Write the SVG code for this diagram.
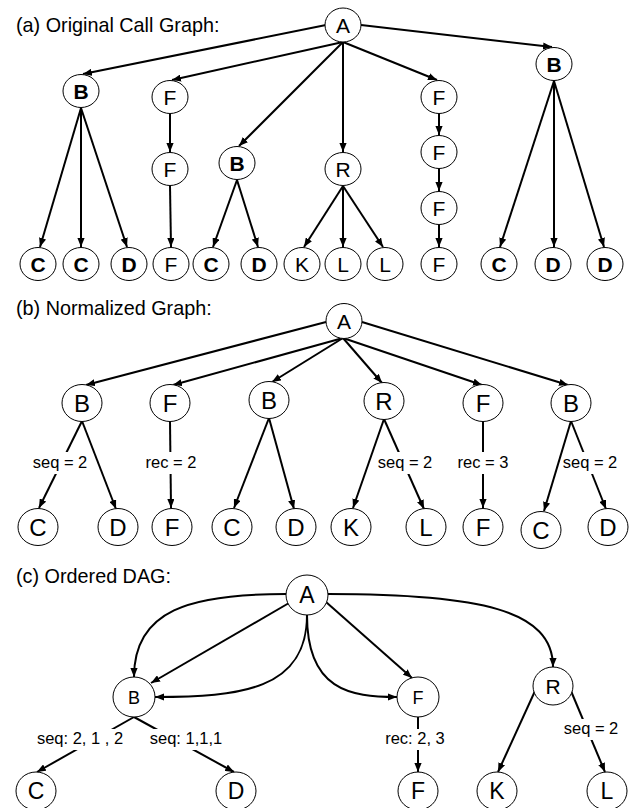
<svg xmlns="http://www.w3.org/2000/svg" width="633" height="808" viewBox="0 0 633 808">
<defs>
<marker id="ah" viewBox="0 0 10 8" refX="10" refY="4" markerWidth="9" markerHeight="7.2" markerUnits="userSpaceOnUse" orient="auto">
<path d="M0,0 L10,4 L0,8 z" fill="#000"/>
</marker>
</defs>
<style>
text{font-family:"Liberation Sans",Arial,sans-serif;fill:#000}
.n ellipse{fill:#fff;stroke:#000;stroke-width:1}
.n text{text-anchor:middle}
.a text{font-size:21px}
.b text{font-size:24px}
.bd text{font-weight:bold}
.e line,.e path{stroke:#000;stroke-width:2;fill:none;marker-end:url(#ah)}
.lb rect{fill:#fff}
.lb text{font-size:16.5px;text-anchor:middle}
.t{font-size:19.8px}
</style>
<rect width="633" height="808" fill="#fff"/>
<text class="t" x="16" y="32">(a) Original Call Graph:</text>
<text class="t" x="16" y="315">(b) Normalized Graph:</text>
<text class="t" x="16" y="583">(c) Ordered DAG:</text>

<g id="connectors" class="e">
<!-- (a) -->
<line x1="326" y1="25" x2="83" y2="74"/>
<line x1="343" y1="42" x2="172" y2="80"/>
<line x1="343" y1="42" x2="239" y2="146"/>
<line x1="343" y1="42" x2="343" y2="152"/>
<line x1="343" y1="42" x2="437" y2="80"/>
<line x1="361" y1="25" x2="552" y2="47"/>
<line x1="170" y1="114" x2="170" y2="152"/>
<line x1="81" y1="108" x2="40" y2="247"/>
<line x1="81" y1="108" x2="81" y2="247"/>
<line x1="81" y1="108" x2="127" y2="247"/>
<line x1="170" y1="186" x2="171" y2="247"/>
<line x1="237" y1="180" x2="213" y2="247"/>
<line x1="237" y1="180" x2="258" y2="247"/>
<line x1="343" y1="186" x2="304" y2="247"/>
<line x1="343" y1="186" x2="343" y2="247"/>
<line x1="343" y1="186" x2="383" y2="247"/>
<line x1="439" y1="114" x2="439" y2="135"/>
<line x1="439" y1="169" x2="439" y2="191"/>
<line x1="439" y1="225" x2="439" y2="247"/>
<line x1="554" y1="81" x2="500" y2="247"/>
<line x1="554" y1="81" x2="554" y2="247"/>
<line x1="554" y1="81" x2="604" y2="247"/>
<!-- (b) -->
<line x1="326" y1="322" x2="86" y2="385"/>
<line x1="343" y1="338" x2="173" y2="385"/>
<line x1="343" y1="338" x2="272" y2="382"/>
<line x1="343" y1="338" x2="382" y2="383"/>
<line x1="343" y1="338" x2="482" y2="385"/>
<line x1="362" y1="322" x2="568" y2="385"/>
<line x1="82" y1="421" x2="39" y2="508"/>
<line x1="82" y1="421" x2="116" y2="509"/>
<line x1="170" y1="421" x2="171" y2="508"/>
<line x1="269" y1="418" x2="234" y2="508"/>
<line x1="269" y1="418" x2="294" y2="509"/>
<line x1="384" y1="419" x2="353" y2="508"/>
<line x1="384" y1="419" x2="424" y2="509"/>
<line x1="483" y1="421" x2="483" y2="508"/>
<line x1="571" y1="421" x2="544" y2="511"/>
<line x1="571" y1="421" x2="606" y2="509"/>
<!-- (c) -->
<path d="M286,594 C190,594 134,610 134,677"/>
<line x1="289" y1="603" x2="151" y2="683"/>
<path d="M307,615 C307,690 240,697 155,697"/>
<path d="M307,615 C307,690 350,697 397,697"/>
<line x1="326" y1="602" x2="412" y2="678"/>
<path d="M328,594 C480,594 553,610 553,667"/>
<line x1="134" y1="717" x2="37" y2="772"/>
<line x1="134" y1="717" x2="234" y2="772"/>
<line x1="418" y1="717" x2="418" y2="772"/>
<line x1="535" y1="691" x2="498" y2="772"/>
<line x1="571" y1="691" x2="605" y2="772"/>
</g>

<g id="labels" class="lb">
<rect x="31" y="452" width="58" height="22"/><text x="60" y="468">seq = 2</text>
<rect x="143" y="452" width="56" height="22"/><text x="171" y="468">rec = 2</text>
<rect x="377" y="452" width="56" height="22"/><text x="405" y="468">seq = 2</text>
<rect x="455" y="452" width="56" height="22"/><text x="483" y="468">rec = 3</text>
<rect x="563" y="452" width="55" height="22"/><text x="590" y="468">seq = 2</text>
<rect x="33" y="729" width="93" height="21"/><text x="80" y="744">seq: 2, 1 , 2</text>
<rect x="148" y="729" width="77" height="21"/><text x="186" y="744">seq: 1,1,1</text>
<rect x="383" y="729" width="64" height="21"/><text x="415" y="744">rec: 2, 3</text>
<rect x="562" y="719" width="58" height="21"/><text x="591" y="734">seq = 2</text>
</g>

<!-- (a) nodes -->
<g id="a_A" class="n a"><ellipse cx="343" cy="25" rx="18" ry="17"/><text x="343" y="32.5">A</text></g>
<g id="a_B1" class="n a bd"><ellipse cx="81" cy="91" rx="18" ry="16.5"/><text x="81" y="98.5">B</text></g>
<g id="a_F1" class="n a"><ellipse cx="170" cy="97" rx="18" ry="16.5"/><text x="170" y="104.5">F</text></g>
<g id="a_F2" class="n a"><ellipse cx="170" cy="169" rx="18" ry="16.5"/><text x="170" y="176.5">F</text></g>
<g id="a_B2" class="n a bd"><ellipse cx="237" cy="163" rx="18" ry="16.5"/><text x="237" y="170.5">B</text></g>
<g id="a_R" class="n a"><ellipse cx="343" cy="169" rx="18" ry="16.5"/><text x="343" y="176.5">R</text></g>
<g id="a_F3" class="n a"><ellipse cx="439" cy="97" rx="18" ry="16.5"/><text x="439" y="104.5">F</text></g>
<g id="a_F4" class="n a"><ellipse cx="439" cy="152" rx="18" ry="16.5"/><text x="439" y="159.5">F</text></g>
<g id="a_F5" class="n a"><ellipse cx="439" cy="208" rx="18" ry="16.5"/><text x="439" y="215.5">F</text></g>
<g id="a_B3" class="n a bd"><ellipse cx="554" cy="64" rx="18" ry="16.5"/><text x="554" y="71.5">B</text></g>
<g id="a_C1" class="n a bd"><ellipse cx="38" cy="264" rx="18" ry="16.5"/><text x="38" y="271.5">C</text></g>
<g id="a_C2" class="n a bd"><ellipse cx="81" cy="264" rx="18" ry="16.5"/><text x="81" y="271.5">C</text></g>
<g id="a_D1" class="n a bd"><ellipse cx="129" cy="264" rx="18" ry="16.5"/><text x="129" y="271.5">D</text></g>
<g id="a_F6" class="n a"><ellipse cx="171" cy="264" rx="18" ry="16.5"/><text x="171" y="271.5">F</text></g>
<g id="a_C3" class="n a bd"><ellipse cx="211" cy="264" rx="18" ry="16.5"/><text x="211" y="271.5">C</text></g>
<g id="a_D2" class="n a bd"><ellipse cx="259" cy="264" rx="18" ry="16.5"/><text x="259" y="271.5">D</text></g>
<g id="a_K" class="n a"><ellipse cx="302" cy="264" rx="18" ry="16.5"/><text x="302" y="271.5">K</text></g>
<g id="a_L1" class="n a"><ellipse cx="343" cy="264" rx="18" ry="16.5"/><text x="343" y="271.5">L</text></g>
<g id="a_L2" class="n a"><ellipse cx="385" cy="264" rx="18" ry="16.5"/><text x="385" y="271.5">L</text></g>
<g id="a_F7" class="n a"><ellipse cx="439" cy="264" rx="18" ry="16.5"/><text x="439" y="271.5">F</text></g>
<g id="a_C4" class="n a bd"><ellipse cx="499" cy="264" rx="18" ry="16.5"/><text x="499" y="271.5">C</text></g>
<g id="a_D3" class="n a bd"><ellipse cx="553" cy="264" rx="18" ry="16.5"/><text x="553" y="271.5">D</text></g>
<g id="a_D4" class="n a bd"><ellipse cx="605" cy="264" rx="18" ry="16.5"/><text x="605" y="271.5">D</text></g>

<!-- (b) nodes -->
<g id="b_A" class="n a"><ellipse cx="344" cy="321" rx="18" ry="17.5"/><text x="344" y="328.5">A</text></g>
<g id="b_B1" class="n b"><ellipse cx="82" cy="403" rx="20" ry="18.5"/><text x="82" y="411.5">B</text></g>
<g id="b_F1" class="n b"><ellipse cx="170" cy="403" rx="20" ry="18.5"/><text x="170" y="411.5">F</text></g>
<g id="b_B2" class="n b"><ellipse cx="269" cy="400" rx="20" ry="18.5"/><text x="269" y="408.5">B</text></g>
<g id="b_R" class="n b"><ellipse cx="384" cy="401" rx="20" ry="18.5"/><text x="384" y="409.5">R</text></g>
<g id="b_F2" class="n b"><ellipse cx="483" cy="403" rx="20" ry="18.5"/><text x="483" y="411.5">F</text></g>
<g id="b_B3" class="n b"><ellipse cx="571" cy="403" rx="20" ry="18.5"/><text x="571" y="411.5">B</text></g>
<g id="b_C1" class="n b"><ellipse cx="38" cy="527" rx="20" ry="18.5"/><text x="38" y="535.5">C</text></g>
<g id="b_D1" class="n b"><ellipse cx="118" cy="527" rx="20" ry="18.5"/><text x="118" y="535.5">D</text></g>
<g id="b_F3" class="n b"><ellipse cx="172" cy="527" rx="20" ry="18.5"/><text x="172" y="535.5">F</text></g>
<g id="b_C2" class="n b"><ellipse cx="232" cy="527" rx="20" ry="18.5"/><text x="232" y="535.5">C</text></g>
<g id="b_D2" class="n b"><ellipse cx="296" cy="527" rx="20" ry="18.5"/><text x="296" y="535.5">D</text></g>
<g id="b_K" class="n b"><ellipse cx="351" cy="527" rx="20" ry="18.5"/><text x="351" y="535.5">K</text></g>
<g id="b_L" class="n b"><ellipse cx="426" cy="527" rx="20" ry="18.5"/><text x="426" y="535.5">L</text></g>
<g id="b_F4" class="n b"><ellipse cx="483" cy="527" rx="20" ry="18.5"/><text x="483" y="535.5">F</text></g>
<g id="b_C3" class="n b"><ellipse cx="541" cy="530" rx="20" ry="18.5"/><text x="541" y="538.5">C</text></g>
<g id="b_D3" class="n b"><ellipse cx="608" cy="527" rx="20" ry="18.5"/><text x="608" y="535.5">D</text></g>

<!-- (c) nodes -->
<g id="c_A" class="n"><ellipse cx="307" cy="595" rx="21" ry="20"/><text x="307" y="603" font-size="23">A</text></g>
<g id="c_B" class="n"><ellipse cx="134" cy="697" rx="21" ry="20"/><text x="134" y="703.5" font-size="18">B</text></g>
<g id="c_F1" class="n"><ellipse cx="418" cy="697" rx="21" ry="20"/><text x="418" y="703.5" font-size="18">F</text></g>
<g id="c_R" class="n"><ellipse cx="553" cy="686" rx="20" ry="19"/><text x="553" y="693.5" font-size="21">R</text></g>
<g id="c_C" class="n"><ellipse cx="36" cy="791" rx="20" ry="19"/><text x="36" y="799" font-size="23">C</text></g>
<g id="c_D" class="n"><ellipse cx="236" cy="791" rx="20" ry="19"/><text x="236" y="799" font-size="23">D</text></g>
<g id="c_F2" class="n"><ellipse cx="418" cy="791" rx="20" ry="19"/><text x="418" y="799" font-size="23">F</text></g>
<g id="c_K" class="n"><ellipse cx="497" cy="791" rx="20" ry="19"/><text x="497" y="799" font-size="23">K</text></g>
<g id="c_L" class="n"><ellipse cx="607" cy="791" rx="20" ry="19"/><text x="607" y="799" font-size="23">L</text></g>
</svg>
